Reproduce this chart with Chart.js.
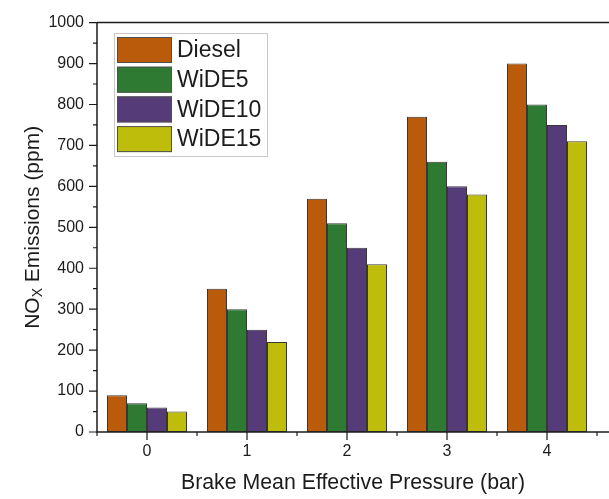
<!DOCTYPE html>
<html>
<head>
<meta charset="utf-8">
<script src="https://cdn.jsdelivr.net/npm/chart.js@4.4.1/dist/chart.umd.min.js"></script>
<style>
  html, body { margin: 0; padding: 0; background: #fff; overflow: hidden; }
</style>
</head>
<body>
<canvas id="myChart" width="609" height="499"></canvas>
<script>
// Datos (NOx en ppm)
const presiones = [0, 1, 2, 3, 4];
const etiquetasX = ['0', '1', '2', '3', '4'];
const series = ['Diesel', 'WiDE5', 'WiDE10', 'WiDE15'];
const diesel = [90, 350, 570, 770, 900];
const wide5 = [70, 300, 510, 660, 800];
const wide10 = [60, 250, 450, 600, 750];
const wide15 = [50, 220, 410, 580, 710];
const ticksY = [0, 100, 200, 300, 400, 500, 600, 700, 800, 900, 1000];

const colores = ['#b95b0b', '#2f7a33', '#553b78', '#bfbd0b'];
const fuente = 'Arial, "Liberation Sans", sans-serif';
const tinta = '#1c1c1c';

const valores = [diesel, wide5, wide10, wide15];

const generaDatasets = () => {
    return series.map((nombre, i) => ({
        label: nombre,
        data: presiones.map((p, j) => ({ x: p, y: valores[i][j] })),
        backgroundColor: colores[i],
        borderColor: '#383838',
        borderWidth: 1,
        borderSkipped: false,
        categoryPercentage: 0.8,
        barPercentage: 1.0
    }));
}

// ejes, marcas, leyenda y título del eje Y con subíndice
const marco = {
    id: 'marco',
    afterDraw(chart) {
        const { ctx, chartArea: a, scales } = chart;
        const x = scales.x, y = scales.y;
        ctx.save();
        ctx.strokeStyle = tinta;
        ctx.lineWidth = 1.5;
        ctx.beginPath();
        ctx.moveTo(a.left, a.top); ctx.lineTo(a.right, a.top);
        ctx.moveTo(a.left, a.top); ctx.lineTo(a.left, a.bottom);
        ctx.moveTo(a.left - 0.75, a.bottom); ctx.lineTo(a.right, a.bottom);
        ctx.stroke();

        ctx.lineWidth = 1.2;
        ctx.beginPath();
        for (let v = 0; v <= 1000; v += 50) {
            const py = y.getPixelForValue(v);
            const largo = v % 100 === 0 ? 8 : 4;
            ctx.moveTo(a.left, py); ctx.lineTo(a.left - largo, py);
        }
        for (let v = -0.5; v <= x.max; v += 0.5) {
            const px = x.getPixelForValue(v);
            const largo = Number.isInteger(v) ? 8 : 4;
            ctx.moveTo(px, a.bottom); ctx.lineTo(px, a.bottom + largo);
        }
        ctx.stroke();

        // leyenda
        const lx = 114, ly = 33;
        ctx.fillStyle = '#fff';
        ctx.fillRect(lx, ly, 153, 123);
        ctx.strokeStyle = '#c8c8c8';
        ctx.lineWidth = 1;
        ctx.strokeRect(lx + 0.5, ly + 0.5, 153, 123);
        chart.data.datasets.forEach((ds, i) => {
            const top = 37 + i * 29.7;
            ctx.fillStyle = ds.backgroundColor;
            ctx.fillRect(117, top, 55, 26);
            ctx.strokeStyle = '#505050';
            ctx.strokeRect(117.5, top + 0.5, 54, 25);
            ctx.fillStyle = tinta;
            ctx.font = '23px ' + fuente;
            ctx.textBaseline = 'middle';
            ctx.textAlign = 'left';
            ctx.fillText(ds.label, 177, top + 14);
        });

        // título eje Y: NOx Emissions (ppm)
        const fGrande = '21px ' + fuente, fChica = '14px ' + fuente;
        ctx.font = fGrande;
        const w1 = ctx.measureText('NO').width;
        const w3 = ctx.measureText(' Emissions (ppm)').width;
        ctx.font = fChica;
        const w2 = ctx.measureText('X').width;
        const total = w1 + w2 + w3;
        ctx.translate(33, (a.top + a.bottom) / 2);
        ctx.rotate(-Math.PI / 2);
        ctx.fillStyle = tinta;
        ctx.textBaseline = 'middle';
        ctx.textAlign = 'left';
        let pos = -total / 2;
        ctx.font = fGrande; ctx.fillText('NO', pos, 0); pos += w1;
        ctx.font = fChica; ctx.fillText('X', pos, 5); pos += w2;
        ctx.font = fGrande; ctx.fillText(' Emissions (ppm)', pos, 0);
        ctx.restore();
    }
};

const ctx = document.getElementById('myChart');

new Chart(ctx, {
    type: 'bar',
    data: {
        datasets: generaDatasets()
    },
    options: {
        responsive: false,
        animation: false,
        layout: { padding: { top: 16.5, right: 0, bottom: 0, left: 0 } },
        plugins: {
            legend: { display: false },
            tooltip: { enabled: false }
        },
        scales: {
            x: {
                type: 'linear',
                offset: false,
                min: -0.5,
                max: 4.62,
                grid: { display: false, drawTicks: false, offset: false },
                border: { display: false },
                afterBuildTicks: (s) => { s.ticks = presiones.map(v => ({ value: v })); },
                afterFit: (s) => { s.height = 67; },
                ticks: {
                    autoSkip: false,
                    maxRotation: 0,
                    padding: 10,
                    color: tinta,
                    font: { family: fuente, size: 16 },
                    callback: (v, i) => etiquetasX[i]
                },
                title: {
                    display: true,
                    text: 'Brake Mean Effective Pressure (bar)',
                    color: tinta,
                    font: { family: fuente, size: 21.3 },
                    padding: { top: 0, bottom: 3 }
                }
            },
            y: {
                min: 0,
                max: 1000,
                grid: { display: false, drawTicks: false },
                border: { display: false },
                afterBuildTicks: (s) => { s.ticks = ticksY.map(v => ({ value: v })); },
                afterFit: (s) => { s.width = 97; },
                ticks: {
                    padding: 13,
                    color: tinta,
                    font: { family: fuente, size: 16 },
                    callback: (v) => String(v)
                }
            }
        }
    },
    plugins: [marco]
});
</script>
</body>
</html>
